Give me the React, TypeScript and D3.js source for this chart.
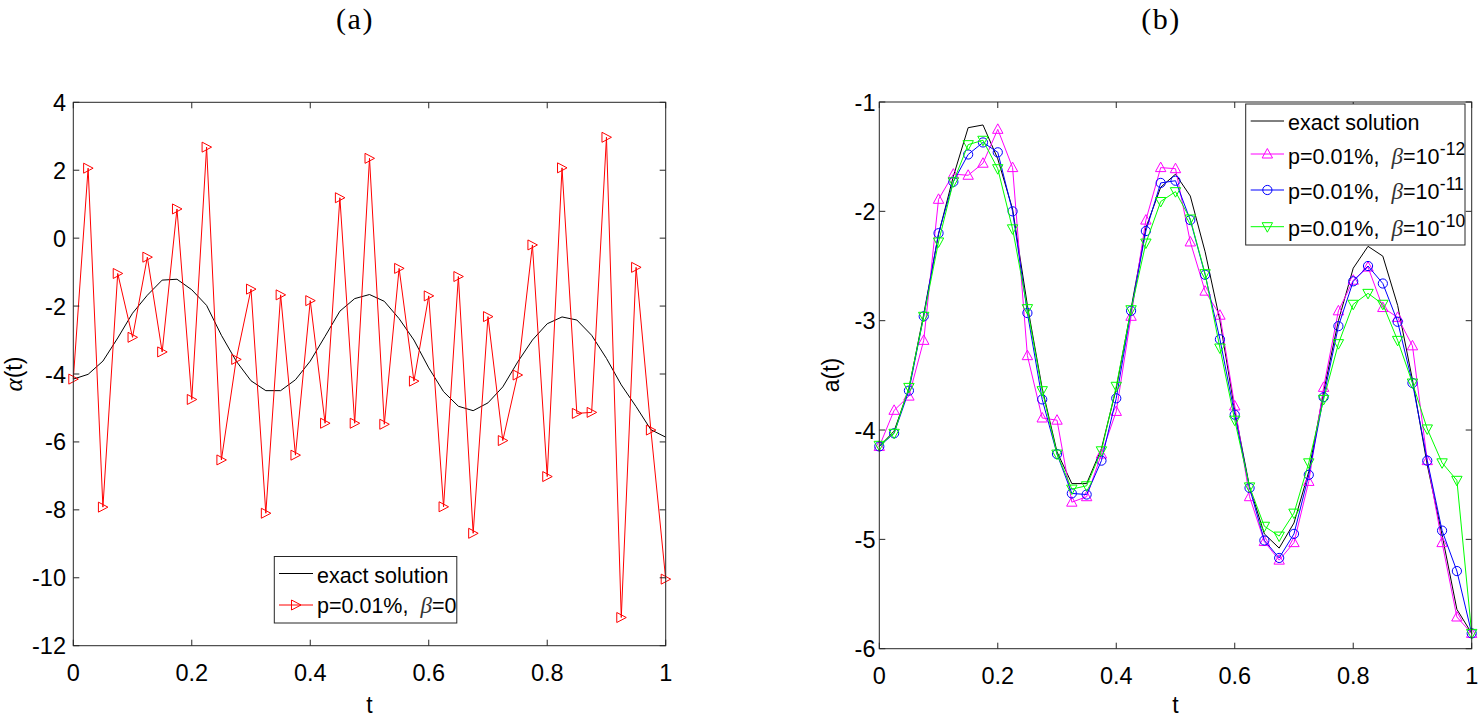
import React from 'react';
import * as d3 from 'd3';

// ---------- DATA ----------
const tValues = [0, 0.025, 0.05, 0.075, 0.1, 0.125, 0.15, 0.175, 0.2, 0.225, 0.25, 0.275, 0.3, 0.325, 0.35, 0.375, 0.4, 0.425, 0.45, 0.475, 0.5, 0.525, 0.55, 0.575, 0.6, 0.625, 0.65, 0.675, 0.7, 0.725, 0.75, 0.775, 0.8, 0.825, 0.85, 0.875, 0.9, 0.925, 0.95, 0.975, 1];

const exactValues = [-4.15, -4.01, -3.62, -2.94, -2.21, -1.68, -1.235, -1.21, -1.52, -1.98, -2.86, -3.62, -4.2, -4.49, -4.49, -4.17, -3.62, -2.89, -2.15, -1.78, -1.66, -1.86, -2.37, -3.0, -3.82, -4.52, -4.95, -5.08, -4.85, -4.38, -3.65, -3.0, -2.52, -2.32, -2.41, -2.86, -3.54, -4.32, -4.96, -5.64, -5.86];

const beta0Values = [-4.15, 2.06, -7.92, -1.04, -2.92, -0.56, -3.35, 0.86, -4.75, 2.68, -6.53, -3.57, -1.5, -8.1, -1.67, -6.39, -1.84, -5.45, 1.19, -5.45, 2.35, -5.48, -0.89, -4.21, -1.7, -7.91, -1.13, -8.69, -2.31, -5.96, -4.03, -0.2, -7.02, 2.07, -5.16, -5.13, 2.97, -11.17, -0.86, -5.65, -10.04];

const beta12Values = [-4.15, -3.82, -3.69, -3.18, -1.89, -1.66, -1.67, -1.56, -1.25, -1.6, -3.32, -3.89, -3.91, -4.66, -4.61, -4.22, -3.83, -2.96, -2.08, -1.6, -1.61, -2.28, -2.73, -2.95, -3.78, -4.61, -5.02, -5.19, -5.03, -4.47, -3.61, -2.91, -2.63, -2.51, -2.88, -2.97, -3.23, -4.28, -5.03, -5.71, -5.86];

const beta11Values = [-4.15, -4.03, -3.64, -2.96, -2.2, -1.73, -1.48, -1.37, -1.46, -2.0, -2.93, -3.72, -4.22, -4.58, -4.59, -4.28, -3.71, -2.91, -2.18, -1.74, -1.72, -2.08, -2.58, -3.17, -3.86, -4.53, -5.01, -5.17, -4.95, -4.41, -3.7, -3.05, -2.64, -2.5, -2.66, -3.01, -3.57, -4.28, -4.92, -5.29, -5.86];

const beta10Values = [-4.14, -4.03, -3.61, -2.96, -2.28, -1.73, -1.39, -1.35, -1.61, -2.16, -2.89, -3.64, -4.22, -4.54, -4.51, -4.19, -3.6, -2.9, -2.29, -1.91, -1.82, -2.07, -2.57, -3.25, -3.91, -4.52, -4.88, -4.97, -4.76, -4.3, -3.72, -3.21, -2.85, -2.75, -2.85, -3.18, -3.57, -3.99, -4.3, -4.46, -5.86];

const xTicks = [0, 0.2, 0.4, 0.6, 0.8, 1];
const xTickLabels = ['0', '0.2', '0.4', '0.6', '0.8', '1'];
const leftYTicks = [-12, -10, -8, -6, -4, -2, 0, 2, 4];
const rightYTicks = [-6, -5, -4, -3, -2, -1];

// ---------- STYLE ----------
const SANS = "'Liberation Sans', Arial, Helvetica, sans-serif";
const SERIF = "'Liberation Serif', 'Times New Roman', serif";
const AXIS = '#262626';
const TICK_FS = 23.5;
const LEG_FS = 21.5;

type Marker = 'right' | 'up' | 'down' | 'circle' | 'none';

function markerPath(m: Marker): string {
  switch (m) {
    case 'right': return 'M-4.5,-5 L5,0 L-4.5,5 Z';
    case 'up': return 'M0,-5.5 L5.2,4 L-5.2,4 Z';
    case 'down': return 'M0,5.5 L5.2,-4 L-5.2,-4 Z';
    default: return '';
  }
}

function MarkerGlyph({ m, x, y, color }: { m: Marker; x: number; y: number; color: string }) {
  if (m === 'none') return null;
  if (m === 'circle') return <circle cx={x} cy={y} r={4.6} fill="none" stroke={color} strokeWidth={1} />;
  return <path d={markerPath(m)} transform={`translate(${x},${y})`} fill="none" stroke={color} strokeWidth={1} />;
}

type Series = { values: number[]; color: string; marker: Marker };

function Panel(props: {
  x0: number; x1: number; yTop: number; yBot: number;
  yDomain: [number, number]; yTicks: number[]; yLabelAnchor: number;
  series: Series[];
}) {
  const { x0, x1, yTop, yBot, yDomain, yTicks, yLabelAnchor, series } = props;
  const x = d3.scaleLinear().domain([0, 1]).range([x0, x1]);
  const y = d3.scaleLinear().domain(yDomain).range([yBot, yTop]);
  const line = d3.line<number>().x((_, i) => x(tValues[i])).y(d => y(d));
  const tl = 6;
  return (
    <g>
      {series.map((s, si) => (
        <g key={si}>
          <path d={line(s.values) || ''} fill="none" stroke={s.color} strokeWidth={1} strokeLinejoin="miter" />
          {s.values.map((v, i) => (
            <MarkerGlyph key={i} m={s.marker} x={x(tValues[i])} y={y(v)} color={s.color} />
          ))}
        </g>
      ))}
      <rect x={x0} y={yTop} width={x1 - x0} height={yBot - yTop} fill="none" stroke={AXIS} strokeWidth={1} />
      {xTicks.map((t, i) => (
        <g key={'xt' + i}>
          <line x1={x(t)} x2={x(t)} y1={yBot} y2={yBot - tl} stroke={AXIS} />
          <line x1={x(t)} x2={x(t)} y1={yTop} y2={yTop + tl} stroke={AXIS} />
          <text x={x(t)} y={yBot + 35} textAnchor="middle" fontFamily={SANS} fontSize={TICK_FS} fill="#000">{xTickLabels[i]}</text>
        </g>
      ))}
      {yTicks.map((v, i) => (
        <g key={'yt' + i}>
          <line x1={x0} x2={x0 + tl} y1={y(v)} y2={y(v)} stroke={AXIS} />
          <line x1={x1} x2={x1 - tl} y1={y(v)} y2={y(v)} stroke={AXIS} />
          <text x={yLabelAnchor} y={y(v) + 8.5} textAnchor="end" fontFamily={SANS} fontSize={TICK_FS} fill="#000">{String(v)}</text>
        </g>
      ))}
    </g>
  );
}

function LegendRow(props: { x0: number; x1: number; ly: number; by: number; color: string; marker: Marker; children: React.ReactNode }) {
  const { x0, x1, ly, by, color, marker, children } = props;
  return (
    <g>
      <line x1={x0} x2={x1} y1={ly} y2={ly} stroke={color} strokeWidth={1} />
      <MarkerGlyph m={marker} x={(x0 + x1) / 2} y={ly} color={color} />
      <text x={x1 + 4} y={by} fontFamily={SANS} fontSize={LEG_FS} fill="#000" style={{ whiteSpace: 'pre' }}>{children}</text>
    </g>
  );
}

function BetaText({ exp }: { exp: string | null }) {
  return (
    <>
      <tspan>{'p=0.01%,\u00A0\u00A0'}</tspan>
      <tspan fontFamily={SERIF} fontStyle="italic" fontSize={LEG_FS + 1.5} fill="#333">β</tspan>
      <tspan>{exp === null ? '=0' : '=10'}</tspan>
      {exp !== null && <tspan fontSize={17.5} dy={-9} dx={0.5}>{exp}</tspan>}
    </>
  );
}

export default function App() {
  return (
    <svg width={1479} height={719} viewBox="0 0 1479 719" style={{ position: 'absolute', left: 0, top: 0, background: '#fff' }}>
      <rect x={0} y={0} width={1479} height={719} fill="#fff" />
      {/* titles */}
      <text x={355} y={29} textAnchor="middle" fontFamily={SERIF} fontSize={30} letterSpacing={1.5} fill="#000">(a)</text>
      <text x={1161} y={29} textAnchor="middle" fontFamily={SERIF} fontSize={30} letterSpacing={1.5} fill="#000">(b)</text>

      {/* left panel */}
      <Panel x0={73.3} x1={665.7} yTop={102.3} yBot={645.7} yDomain={[-12, 4]} yTicks={leftYTicks} yLabelAnchor={66}
        series={[
          { values: exactValues, color: '#000000', marker: 'none' },
          { values: beta0Values, color: '#ff0000', marker: 'right' },
        ]} />
      <g>
        <rect x={274.3} y={556.5} width={182.5} height={66.5} fill="#fff" stroke={AXIS} strokeWidth={1} />
        <LegendRow x0={279} x1={313} ly={573.5} by={583} color="#000" marker="none">exact solution</LegendRow>
        <LegendRow x0={279} x1={313} ly={605} by={613} color="#ff0000" marker="right"><BetaText exp={null} /></LegendRow>
      </g>
      <text x={369.5} y={713} textAnchor="middle" fontFamily={SANS} fontSize={23} fill="#000">t</text>
      <text transform="translate(21.5,374) rotate(-90)" textAnchor="middle" fontFamily={SANS} fontSize={23} fill="#000">
        <tspan fontFamily={SERIF} fontStyle="italic" fontSize={25}>α</tspan><tspan>(t)</tspan>
      </text>

      {/* right panel */}
      <Panel x0={879.3} x1={1471.7} yTop={102} yBot={648.7} yDomain={[-6, -1]} yTicks={rightYTicks} yLabelAnchor={875.5}
        series={[
          { values: exactValues, color: '#000000', marker: 'none' },
          { values: beta12Values, color: '#ff00ff', marker: 'up' },
          { values: beta11Values, color: '#0000ff', marker: 'circle' },
          { values: beta10Values, color: '#00ff00', marker: 'down' },
        ]} />
      <g>
        <rect x={1245.7} y={104} width={219.3} height={141} fill="#fff" stroke={AXIS} strokeWidth={1} />
        <LegendRow x0={1250.7} x1={1284} ly={121} by={130} color="#000" marker="none">exact solution</LegendRow>
        <LegendRow x0={1250.7} x1={1284} ly={154} by={163.5} color="#ff00ff" marker="up"><BetaText exp="-12" /></LegendRow>
        <LegendRow x0={1250.7} x1={1284} ly={190} by={199} color="#0000ff" marker="circle"><BetaText exp="-11" /></LegendRow>
        <LegendRow x0={1250.7} x1={1284} ly={226.7} by={235.5} color="#00ff00" marker="down"><BetaText exp="-10" /></LegendRow>
      </g>
      <text x={1175.5} y={713} textAnchor="middle" fontFamily={SANS} fontSize={23} fill="#000">t</text>
      <text transform="translate(839,375) rotate(-90)" textAnchor="middle" fontFamily={SANS} fontSize={23} fill="#000">a(t)</text>
    </svg>
  );
}
